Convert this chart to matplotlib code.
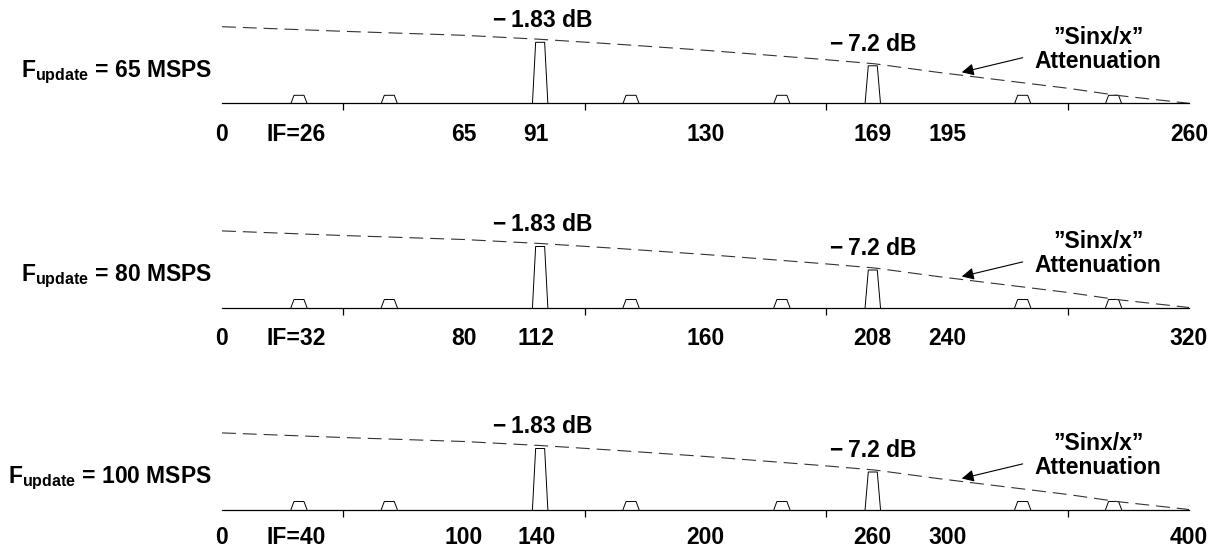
import matplotlib
matplotlib.use("Agg")
import matplotlib.pyplot as plt
import numpy as np

plt.rcParams['font.family'] = ['Liberation Sans', 'DejaVu Sans']
plt.rcParams['mathtext.fontset'] = 'custom'
plt.rcParams['mathtext.rm'] = 'Liberation Sans:bold'
plt.rcParams['mathtext.bf'] = 'Liberation Sans:bold'
plt.rcParams['lines.scale_dashes'] = False

# update rates and their axis labels
fupdate = [65, 80, 100]
labels_65 = ["0", "IF=26", "65", "91", "130", "169", "195", "260"]
labels_80 = ["0", "IF=32", "80", "112", "160", "208", "240", "320"]
labels_100 = ["0", "IF=40", "100", "140", "200", "260", "300", "400"]
all_labels = [labels_65, labels_80, labels_100]

# positions along the axis, as a fraction of the span 0..4*Fupdate (schematic)
label_pos = [0, 0.077, 0.25, 0.325, 0.5, 0.673, 0.75, 1.0]
tick_pos = np.linspace(0, 1, 9)

# image spurs (small) and the two wanted signals (tall)
spur_pos = [0.0796, 0.173, 0.423, 0.579, 0.828, 0.922]
spur_height = 8
signal_pos = [0.329, 0.673]
signal_height = [61, 37.5]

# sin(x)/x envelope
env_x = [0, 0.125, 0.25, 0.329, 0.41, 0.5, 0.62, 0.675, 0.74, 0.875, 0.925, 1.0]
env_y = [76.6, 72, 68, 64, 59, 53, 44, 39.5, 31, 15, 8, 0]

W, H = 1210, 550
fig = plt.figure(figsize=(W / 100, H / 100), dpi=100)

baselines = [103.3, 307.5, 509.5]
label_pads = [14, 14, 12]
x0, x1 = 222, 1189
FS = 16.5


def trapezoid(ax, c, h, bw, tw, lw=0.7):
    ax.plot([c - bw / 2, c - tw / 2, c + tw / 2, c + bw / 2], [0, h, h, 0],
            color="black", lw=lw, clip_on=False)


for i, b in enumerate(baselines):
    ax = fig.add_axes([x0 / W, (H - b) / H, (x1 - x0) / W, 90 / H])
    ax.set_xlim(0, 1)
    ax.set_ylim(0, 90)
    for s in ["top", "left", "right"]:
        ax.spines[s].set_visible(False)
    ax.spines["bottom"].set_linewidth(0.9)
    ax.set_yticks([])

    ax.set_xticks(label_pos)
    ax.set_xticklabels(all_labels[i], fontsize=FS, fontweight="bold")
    ax.set_xticks(tick_pos, minor=True)
    ax.tick_params(axis="x", which="major", length=0, pad=label_pads[i])
    ax.tick_params(axis="x", which="minor", length=5.2, width=0.9, direction="out")

    for p in spur_pos:
        trapezoid(ax, p, spur_height, 16 / 967, 10 / 967)
    for p, h in zip(signal_pos, signal_height):
        trapezoid(ax, p, h, 15.4 / 967, 9 / 967)

    ax.plot(env_x, env_y, color="#333333", lw=0.8, linestyle=(0, (10, 5)),
            clip_on=False)

    ax.text(signal_pos[0] + 0.003, 83, "\u2212\u20091.83 dB", fontsize=FS,
            fontweight="bold", ha="center", va="center")
    ax.text(signal_pos[1], 59, "\u2212\u20097.2 dB", fontsize=FS, fontweight="bold",
            ha="center", va="center")
    ax.text(0.906, 66, "\u201dSinx/x\u201d", fontsize=FS, fontweight="bold",
            ha="center", va="center")
    ax.text(0.906, 41.6, "Attenuation", fontsize=FS, fontweight="bold",
            ha="center", va="center")
    ax.annotate("", xy=(0.765, 31), xytext=(0.828, 45.6),
                arrowprops=dict(arrowstyle="-|>", color="black", lw=0.8,
                                mutation_scale=18, shrinkA=0, shrinkB=0))

    ax.text(-0.0103, 31, r"F$_{\mathrm{update}}$ = %d MSPS" % fupdate[i],
            fontsize=FS, fontweight="bold", ha="right", va="center")

fig.savefig("out.png", dpi=100)
